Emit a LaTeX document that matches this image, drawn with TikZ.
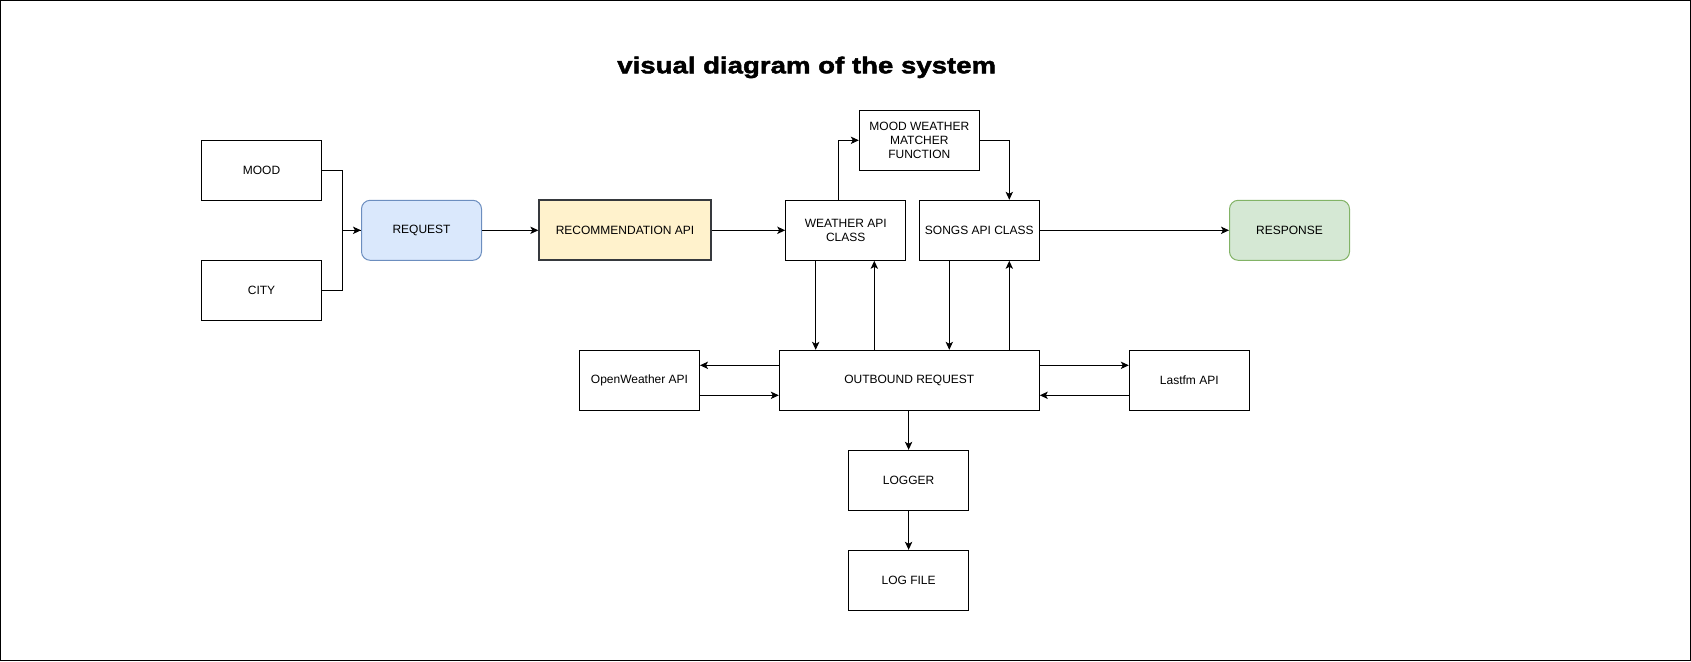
\documentclass[tikz,border=0pt]{standalone}
\usepackage{fontspec}
\setmainfont{Liberation Sans}
\newfontfamily\titrefont{Liberation Sans}[FakeStretch=1.2, BoldFeatures={FakeBold=2}]
\usetikzlibrary{calc, arrows.meta}
\definecolor{bleufond}{HTML}{DAE8FC}
\definecolor{bleutrait}{HTML}{6C8EBF}
\definecolor{jaunefond}{HTML}{FFF2CC}
\definecolor{grisfonce}{HTML}{36393D}
\definecolor{vertfond}{HTML}{D5E8D4}
\definecolor{verttrait}{HTML}{82B366}

\begin{document}
\begin{tikzpicture}[x=0.75pt, y=-0.75pt, >={Stealth[length=6pt, width=5.5pt, inset=1.5pt]},
    bloc/.style={draw, line width=0.75pt, minimum width=90pt, minimum height=45pt, inner sep=1pt, align=center, font=\fontsize{9}{10.8}\selectfont},
    arrondi/.style={bloc, rounded corners=6.5pt},
    lien/.style={line width=0.75pt},
    descend/.style={->}, monte/.style={<-}]
  \useasboundingbox (0,0) rectangle (1691,661);
  \draw[line width=0.75pt] (0.5,0.5) rectangle (1690.5,660.5);

  \node[anchor=base] (titre) at (806.7,73.3) {\titrefont\bfseries\fontsize{17.25}{20}\selectfont visual diagram of the system};

  \foreach \nom/\x/\y/\texte in {mood/261.5/170.3/MOOD, city/261.5/290.3/CITY,
      weatherapi/845.7/230.3/WEATHER API\\CLASS, matcher/919.3/140.3/MOOD WEATHER\\MATCHER\\FUNCTION,
      songsapi/979.3/230.3/SONGS API CLASS, openweather/639.5/380.3/OpenWeather API,
      lastfm/1189.3/380.3/Lastfm API, logger/908.6/480.3/LOGGER, logfile/908.6/580.3/LOG FILE}
    \node[bloc] (\nom) at (\x,\y) {\texte};

  \node[arrondi, fill=bleufond, draw=bleutrait] (request) at (421.5,230.3) {REQUEST};
  \node[bloc, fill=jaunefond, draw=grisfonce, line width=1.5pt, minimum width=128.5pt] (recoapi) at (625,230.3) {RECOMMENDATION API};
  \node[arrondi, fill=vertfond, draw=verttrait] (response) at (1289.5,230.3) {RESPONSE};
  \node[bloc, minimum width=195pt] (outbound) at (909.3,380.3) {OUTBOUND REQUEST};

  \draw[lien] (city.east) -- ++(20,0) |- (request.west);
  \draw[lien,->] (mood.east) -- ++(20,0) |- (request.west);
  \draw[lien,->] (request) -- (recoapi);
  \draw[lien,->] (recoapi) -- (weatherapi);
  \draw[lien,->] (songsapi) -- (response);
  \draw[lien,->] ($(weatherapi.north)+(-7,0)$) |- (matcher);
  \draw[lien,->] (matcher) -| ($(songsapi.north)+(30,0)$);

  \foreach \source/\dx/\sens in {weatherapi/-30/descend, weatherapi/28.6/monte, songsapi/-30/descend, songsapi/30/monte} {
    \coordinate (depart) at ($(\source.south)+(\dx,0)$);
    \draw[lien,\sens] (depart) -- (depart |- outbound.north);
  }

  \draw[lien,->] ([yshift=11.25pt]outbound.west) -- ([yshift=11.25pt]openweather.east);
  \draw[lien,->] ([yshift=-11.25pt]openweather.east) -- ([yshift=-11.25pt]outbound.west);
  \draw[lien,->] ([yshift=11.25pt]outbound.east) -- ([yshift=11.25pt]lastfm.west);
  \draw[lien,->] ([yshift=-11.25pt]lastfm.west) -- ([yshift=-11.25pt]outbound.east);
  \draw[lien,->] (logger.north |- outbound.south) -- (logger);
  \draw[lien,->] (logger) -- (logfile);
\end{tikzpicture}
\end{document}
